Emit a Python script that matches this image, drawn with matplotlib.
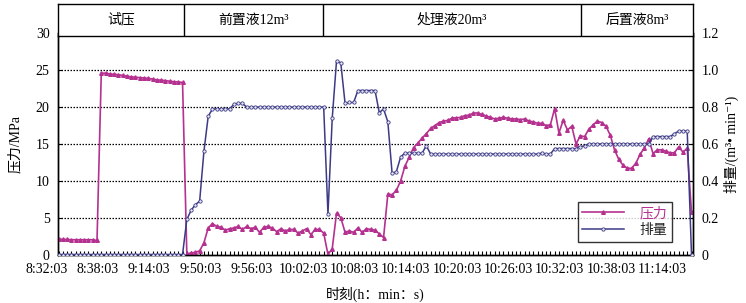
import matplotlib
matplotlib.use('Agg')
import numpy as np
from matplotlib import pyplot as plt
from matplotlib.transforms import ScaledTranslation

plt.rcParams['font.family'] = ['Liberation Serif', 'Noto Sans CJK SC', 'DejaVu Sans']
plt.rcParams['axes.unicode_minus'] = False

# 压力 (MPa)
pressure = [2.1, 2.05, 2.05, 2.0, 2.0, 2.0, 2.0, 2.0, 2.0, 1.9,
            24.6, 24.6, 24.5, 24.45, 24.4, 24.3, 24.2, 24.1, 24.05, 24.0,
            23.95, 23.9, 23.8, 23.7, 23.65, 23.6, 23.5, 23.45, 23.4, 23.35,
            0.1, 0.2, 0.3, 0.5, 1.6, 3.6,
            4.2, 3.8, 3.7, 3.3, 3.5, 3.6, 3.8, 3.4, 3.8, 3.5, 3.7, 3.0, 3.7, 3.8,
            3.6, 3.1, 3.5, 3.2, 3.4, 3.4, 2.9, 3.2, 3.5, 2.7, 3.4, 3.4, 2.9,
            0.0, 0.8, 5.6, 5.0, 3.0, 3.2, 3.0, 3.6, 3.0, 3.5, 3.4, 3.3, 2.8, 2.3,
            8.2, 8.1, 8.7, 10.0, 12.0, 13.2, 14.5, 15.1, 15.8, 16.4, 17.1, 17.5,
            17.9, 18.1, 18.2, 18.5, 18.55, 18.6, 18.85, 18.9, 19.2, 19.2, 19.0,
            18.8, 18.6, 18.4, 18.5, 18.6, 18.5, 18.4, 18.4, 18.3, 18.4, 18.1,
            18.0, 17.8, 17.8, 17.5, 17.6, 19.8, 16.5, 18.2, 16.9, 17.4, 15.0,
            16.1, 16.0, 17.0, 17.6, 18.1, 17.9, 17.4, 16.2, 14.2, 12.9, 12.1,
            11.7, 11.7, 12.4, 13.6, 14.5, 15.7, 13.7, 14.2, 14.2, 14.0, 13.8,
            13.8, 14.6, 13.9, 14.4, 5.7]

# 排量 (m3/min)
rate = [0.0] * 30 + \
       [0.19, 0.24, 0.27, 0.29, 0.56, 0.75,
        0.79, 0.79, 0.79, 0.79, 0.79, 0.815, 0.82, 0.82, 0.80,
        0.80, 0.80, 0.80, 0.80, 0.80, 0.80, 0.80, 0.80, 0.80, 0.80, 0.80,
        0.80, 0.80, 0.80, 0.80, 0.80, 0.80, 0.80,
        0.22, 0.74, 1.05, 1.04, 0.82, 0.825, 0.825, 0.89, 0.89, 0.89, 0.89,
        0.89, 0.77, 0.79, 0.72, 0.44, 0.45, 0.53, 0.55, 0.55, 0.55, 0.55,
        0.55, 0.59, 0.545, 0.545, 0.545, 0.545, 0.545, 0.545, 0.545, 0.545,
        0.545, 0.545, 0.545, 0.545, 0.545, 0.545, 0.545, 0.545, 0.545,
        0.545, 0.545, 0.545, 0.545, 0.545, 0.545, 0.545, 0.545, 0.545,
        0.55, 0.545, 0.545, 0.575, 0.575, 0.575, 0.575, 0.575, 0.575,
        0.585, 0.59, 0.60, 0.60, 0.60, 0.60, 0.60, 0.60, 0.60, 0.60, 0.60,
        0.60, 0.60, 0.60, 0.60, 0.60, 0.60, 0.64, 0.64, 0.64, 0.64, 0.64,
        0.655, 0.67, 0.67, 0.67, 0.0]

time_labels = ['8:32:03', '8:38:03', '9:14:03', '9:50:03', '9:56:03', '10:02:03',
               '10:08:03', '10:14:03', '10:20:03', '10:26:03', '10:32:03',
               '10:38:03', '11:14:03']
label_step = 12

stages = ['试压', '前置液12m³', '处理液20m³', '后置液8m³']
stage_edges = [-0.12, 29.35, 61.85, 122.2, 148.35]

c_p = '#B5318F'
c_q = '#3C3A86'

x = np.arange(len(pressure))
xlo, xhi = stage_edges[0], stage_edges[-1]

fig = plt.figure(figsize=(7.46, 3.03), dpi=100)
ax = fig.add_axes([58/746, 48.5/303, 635/746, 221.1/303])
ax2 = ax.twinx()

for yv in [5, 10, 15, 20, 25]:
    ax.axhline(yv, color='black', linestyle=(0, (1.2, 1.2)), lw=0.9, zorder=1)

lp, = ax.plot(x, pressure, '-', color=c_p, lw=1.2, marker='^', ms=2.6,
              mfc=c_p, mec=c_p, zorder=3, label='压力')
lq, = ax2.plot(x, rate, '-', color=c_q, lw=1.1, marker='o', ms=2.4,
               mfc='#E8E8F4', mec=c_q, mew=0.6, zorder=3, label='排量')

ax.set_xlim(xlo, xhi)
ax.set_ylim(0, 30)
ax2.set_ylim(0, 1.2)
ax.set_yticks([0, 5, 10, 15, 20, 25, 30])
ax2.set_yticks([0, 0.2, 0.4, 0.6, 0.8, 1.0, 1.2])
ax2.set_yticklabels(['0', '0.2', '0.4', '0.6', '0.8', '1.0', '1.2'])

ax.set_xticks(x[::label_step])
ax.set_xticklabels(time_labels)
ax.set_xticks(x, minor=True)
ax.tick_params(axis='x', which='both', direction='in', length=3, width=0.8, labelsize=10, pad=6)
ax.tick_params(axis='y', direction='in', length=3, labelsize=10, pad=6)
ax2.tick_params(axis='y', direction='in', length=3, labelsize=10, pad=6)
off = ScaledTranslation(-12/100, 0, fig.dpi_scale_trans)  # labels sit left of their ticks
for t in ax.get_xticklabels():
    t.set_transform(t.get_transform() + off)

for a in (ax, ax2):
    for s in a.spines.values():
        s.set_linewidth(1)
        s.set_color('black')
    a.spines['top'].set_visible(False)

ax.set_xlabel('时刻(h：min：s)', fontsize=10, labelpad=8)
ax.set_ylabel('压力/MPa', fontsize=10, labelpad=10)
ax2.set_ylabel('排量/(m³• min⁻¹)', fontsize=10, labelpad=4)

leg = ax2.legend([lp, lq], ['压力', '排量'], loc='lower right',
                 bbox_to_anchor=(0.967, 0.056), fontsize=10, frameon=True,
                 fancybox=False, handlelength=3.0, handletextpad=1.1,
                 borderpad=0.35, labelspacing=0.3, borderaxespad=0)
leg.get_frame().set_edgecolor('black')
leg.get_frame().set_linewidth(1)
leg.get_texts()[0].set_color(c_p)
leg.get_texts()[1].set_color('#222222')

# stage header
hx = fig.add_axes([58/746, (303-36)/303, 635/746, 32/303])
hx.set_xlim(xlo, xhi)
hx.set_ylim(0, 1)
hx.set_xticks([])
hx.set_yticks([])
for s in hx.spines.values():
    s.set_linewidth(1)
for e in stage_edges[1:-1]:
    hx.axvline(e, color='black', lw=1)
for i, name in enumerate(stages):
    hx.text((stage_edges[i] + stage_edges[i + 1]) / 2, 0.5, name,
            ha='center', va='center', fontsize=10)

fig.savefig('out.png', dpi=100)
